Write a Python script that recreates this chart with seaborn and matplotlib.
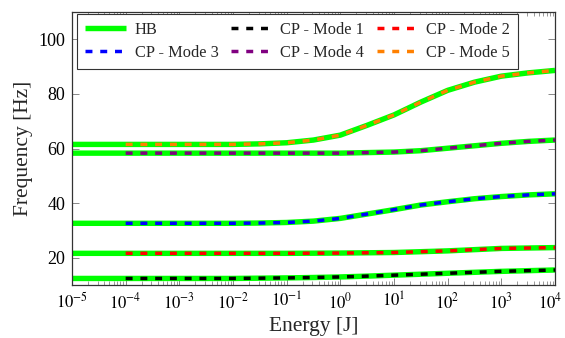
import numpy as np
import pandas as pd
import matplotlib
matplotlib.use("Agg")
import matplotlib.pyplot as plt
import matplotlib.transforms as mtransforms
import seaborn as sns
from matplotlib.ticker import FixedLocator, LogLocator, NullFormatter
from matplotlib.lines import Line2D

# Energy sampled every half decade (log10 of energy in J)
log_energy = [-5.0, -4.5, -4.0, -3.5, -3.0, -2.5, -2.0, -1.5, -1.0, -0.5,
              0.0, 0.5, 1.0, 1.5, 2.0, 2.5, 3.0, 3.5, 4.0]

# Backbone frequencies [Hz] of the first five modes
mode1 = [12.4, 12.4, 12.4, 12.4, 12.4, 12.4, 12.4, 12.5, 12.6, 12.75,
         12.95, 13.25, 13.6, 13.95, 14.3, 14.65, 15.0, 15.25, 15.5]
mode2 = [21.6, 21.6, 21.6, 21.6, 21.6, 21.6, 21.6, 21.6, 21.6, 21.65,
         21.7, 21.8, 21.9, 22.2, 22.5, 22.95, 23.4, 23.55, 23.7]
mode3 = [32.6, 32.6, 32.6, 32.6, 32.6, 32.6, 32.6, 32.7, 32.9, 33.4,
         34.4, 36.0, 37.6, 39.3, 40.5, 41.6, 42.4, 43.0, 43.4]
mode4 = [58.3, 58.3, 58.3, 58.3, 58.3, 58.3, 58.3, 58.3, 58.3, 58.3,
         58.3, 58.5, 58.7, 59.2, 60.1, 61.0, 61.9, 62.6, 63.1]
mode5 = [61.5, 61.5, 61.5, 61.5, 61.5, 61.5, 61.5, 61.7, 62.1, 63.1,
         64.9, 68.5, 72.3, 77.0, 81.3, 84.3, 86.5, 87.7, 88.6]

modes = [mode1, mode2, mode3, mode4, mode5]
cp_labels = ["CP - Mode 1", "CP - Mode 2", "CP - Mode 3", "CP - Mode 4", "CP - Mode 5"]
cp_colors = ["#000000", "#ff0000", "#0000ff", "#800080", "#ff8000"]
cp_start = -4.0  # continuation starts at 1e-4 J
decades = [-5, -4, -3, -2, -1, 0, 1, 2, 3, 4]

HB_LW = 3.9
CP_LW = 2.5
CP_DASH = (0, (2.0, 2.25))

sns.set_style("ticks")
plt.rcParams["font.family"] = ["Liberation Serif", "DejaVu Serif"]
plt.rcParams["mathtext.fontset"] = "stix"

fig = plt.figure(figsize=(5.65, 3.38), dpi=100)
ax = fig.add_axes([0.1274, 0.1568, 0.8549, 0.8077])

energy = 10.0 ** np.array(log_energy)
handles = {}

# Harmonic balance curves (thick green)
for m in modes:
    df = pd.DataFrame({"E": energy, "f": m})
    sns.lineplot(data=df, x="E", y="f", ax=ax, color="#00ff00", linewidth=HB_LW,
                 solid_capstyle="butt", legend=False, zorder=2)
handles["HB"] = Line2D([], [], color="#00ff00", linewidth=HB_LW, solid_capstyle="butt")

# Continuation results (dashed)
for m, lab, c in zip(modes, cp_labels, cp_colors):
    sel = np.array(log_energy) >= cp_start
    df = pd.DataFrame({"E": energy[sel], "f": np.array(m)[sel]})
    sns.lineplot(data=df, x="E", y="f", ax=ax, color=c, linewidth=CP_LW,
                 legend=False, zorder=3)
    ln = ax.lines[-1]
    ln.set_linestyle(CP_DASH)
    ln.set_dash_capstyle("butt")
    handles[lab] = Line2D([], [], color=c, linewidth=CP_LW, linestyle=CP_DASH,
                          dash_capstyle="butt")

ax.set_xscale("log")
ax.set_xlim(1e-5, 1e4)
ax.set_ylim(10, 110)
ax.set_yticks([20, 40, 60, 80, 100])
ax.xaxis.set_major_locator(FixedLocator([10.0 ** d for d in decades]))
ax.set_xticklabels([rf"$10^{{{d}}}$" for d in decades])
ax.xaxis.set_minor_locator(LogLocator(base=10, subs=np.arange(2, 10), numticks=20))
ax.xaxis.set_minor_formatter(NullFormatter())

for s in ax.spines.values():
    s.set_visible(True)
    s.set_color("#333333")
    s.set_linewidth(0.9)

ax.tick_params(axis="both", which="major", direction="in", length=5, width=0.7,
               color="#888888", labelcolor="black", top=True, right=True, pad=5)
ax.tick_params(axis="y", which="major", labelsize=13)
ax.tick_params(axis="x", which="major", labelsize=12)
ax.tick_params(axis="x", which="minor", direction="in", length=3, width=0.6,
               color="#888888", top=True, bottom=True)
ax.tick_params(axis="y", which="minor", left=False, right=False)

ax.set_xlabel("Energy [J]", fontsize=15.5, labelpad=3.5)
ax.set_ylabel("Frequency [Hz]", fontsize=15.5, labelpad=4)

# keep the last decade label inside the canvas
last = ax.get_xticklabels()[-1]
last.set_transform(last.get_transform() +
                   mtransforms.ScaledTranslation(-3.5 / 72, 0, fig.dpi_scale_trans))

order = ["HB", "CP - Mode 3", "CP - Mode 1", "CP - Mode 4", "CP - Mode 2", "CP - Mode 5"]
leg = ax.legend([handles[k] for k in order], order, ncol=3, loc="upper left",
                bbox_to_anchor=(0.011, 0.993), borderaxespad=0, fontsize=11.8,
                frameon=True, fancybox=False, edgecolor="#333333", framealpha=1,
                handlelength=2.5, columnspacing=0.78, handletextpad=0.5,
                borderpad=0.5, labelspacing=0.42)
leg.get_frame().set_linewidth(0.8)

fig.savefig("out.png", dpi=100)
